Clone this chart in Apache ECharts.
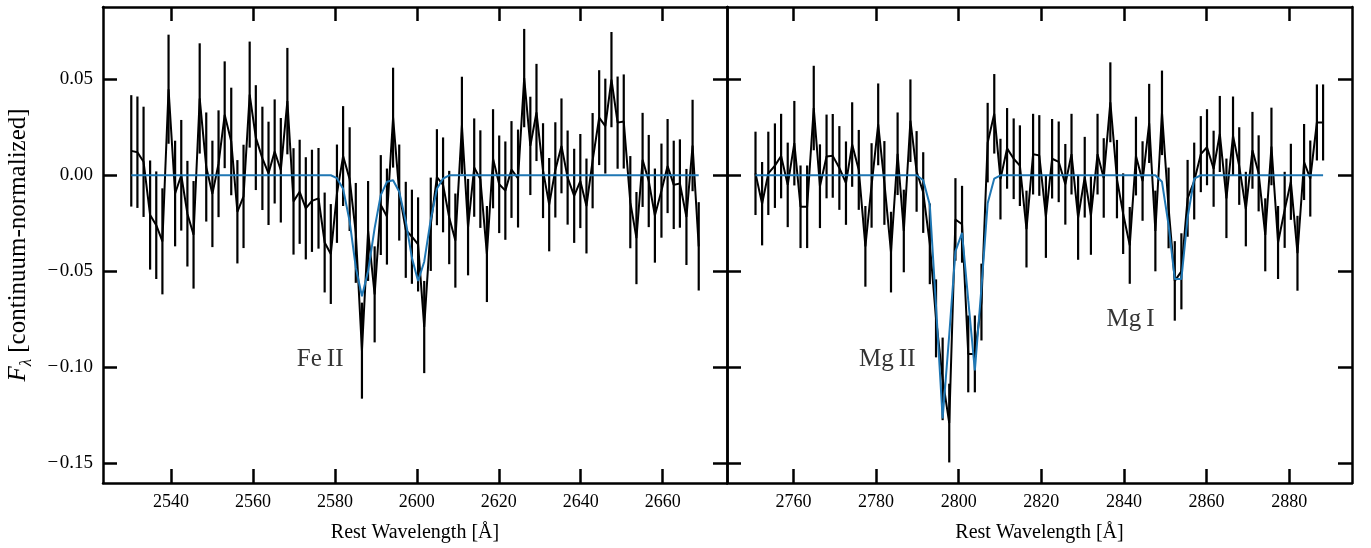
<!DOCTYPE html>
<html><head><meta charset="utf-8">
<script src="https://cdn.jsdelivr.net/npm/echarts@6/dist/echarts.min.js"></script>
<style>html,body{margin:0;padding:0;background:#fff}#c{width:1371px;height:548px}</style>
</head><body><div id="c"></div>
<script>
// ---------------- data ----------------
const leftWave = [2530.3,2531.8,2533.3,2534.9,2536.4,2537.9,2539.4,2541.0,2542.5,2544.0,
2545.5,2547.0,2548.6,2550.1,2551.6,2553.1,2554.7,2556.2,2557.7,2559.2,
2560.7,2562.3,2563.8,2565.3,2566.8,2568.4,2569.9,2571.4,2572.9,2574.4,
2576.0,2577.5,2579.0,2580.5,2582.0,2583.6,2585.1,2586.6,2588.1,2589.7,
2591.2,2592.7,2594.2,2595.7,2597.3,2598.8,2600.3,2601.8,2603.4,2604.9,
2606.4,2607.9,2609.4,2611.0,2612.5,2614.0,2615.5,2617.1,2618.6,2620.1,
2621.6,2623.1,2624.7,2626.2,2627.7,2629.2,2630.8,2632.3,2633.8,2635.3,
2636.8,2638.4,2639.9,2641.4,2642.9,2644.5,2646.0,2647.5,2649.0,2650.5,
2652.1,2653.6,2655.1,2656.6,2658.1,2659.7,2661.2,2662.7,2664.2,2665.8,
2667.3,2668.8];
const leftFlux = [0.0127,0.012,0.007,-0.0207,-0.026,-0.0344,0.0448,-0.0095,0.0,-0.020,
-0.031,0.040,0.0043,-0.0097,0.006,0.0315,0.0176,-0.019,-0.011,0.042,
0.0196,0.0088,0.001,0.0124,0.0026,0.0386,-0.0136,-0.0086,-0.0172,-0.0133,
-0.012,-0.035,-0.041,-0.0096,0.010,-0.002,-0.030,-0.0913,-0.029,-0.062,
-0.0155,-0.0215,0.030,-0.009,-0.0284,-0.032,-0.036,-0.079,-0.0255,-0.001,
-0.005,-0.022,-0.034,0.026,-0.027,0.004,-0.002,-0.041,0.0086,-0.0047,
-0.008,0.003,-0.0017,0.0506,0.0153,0.0327,0.0024,-0.0153,0.0028,0.0153,
-0.0012,-0.0107,-0.003,-0.016,0.0076,0.030,0.0256,0.0498,0.0274,0.028,
-0.014,-0.0327,0.008,-0.003,-0.021,-0.008,0.0048,-0.005,-0.0043,-0.0217,
0.0155,-0.037];
const leftErr = [0.029,0.029,0.0287,0.0284,0.028,0.0276,0.0284,0.0275,0.0288,0.0275,
0.028,0.0287,0.0284,0.0277,0.0278,0.0278,0.028,0.0269,0.0269,0.0276,
0.0273,0.0269,0.0269,0.0271,0.0272,0.0277,0.0277,0.0271,0.0266,0.0266,
0.0262,0.026,0.026,0.0256,0.026,0.027,0.026,0.025,0.026,0.025,
0.026,0.025,0.026,0.025,0.025,0.0245,0.0245,0.024,0.0243,0.025,
0.0247,0.0243,0.0245,0.0253,0.0251,0.0256,0.0254,0.025,0.0258,0.0254,
0.0256,0.0252,0.0255,0.0256,0.0256,0.0253,0.0247,0.0243,0.0248,0.0247,
0.0245,0.0245,0.0245,0.0247,0.0248,0.0247,0.0247,0.0248,0.024,0.0245,
0.024,0.024,0.0245,0.024,0.0245,0.0245,0.0245,0.023,0.023,0.025,
0.0238,0.023];
const leftModel = [0,0,0,0,0,0,0,0,0,0,
0,0,0,0,0,0,0,0,0,0,
0,0,0,0,0,0,0,0,0,0,
0,0,0,-0.0015,-0.007,-0.024,-0.048,-0.063,-0.050,-0.0275,
-0.0103,-0.0034,-0.0026,-0.0086,-0.024,-0.043,-0.055,-0.045,-0.023,-0.007,
-0.0017,0,0,0,0,0,0,0,0,0,
0,0,0,0,0,0,0,0,0,0,
0,0,0,0,0,0,0,0,0,0,
0,0,0,0,0,0,0,0,0,0,
0,0];

const rightWave = [2750.8,2752.4,2753.9,2755.5,2757.0,2758.6,2760.2,2761.7,2763.3,2764.9,
2766.4,2768.0,2769.5,2771.1,2772.7,2774.2,2775.8,2777.4,2778.9,2780.5,
2782.0,2783.6,2785.2,2786.7,2788.3,2789.8,2791.4,2793.0,2794.5,2796.1,
2797.7,2799.2,2800.8,2802.3,2803.9,2805.5,2807.0,2808.6,2810.1,2811.7,
2813.3,2814.8,2816.4,2818.0,2819.5,2821.1,2822.6,2824.2,2825.8,2827.3,
2828.9,2830.5,2832.0,2833.6,2835.1,2836.7,2838.3,2839.8,2841.4,2842.9,
2844.5,2846.1,2847.6,2849.2,2850.8,2852.3,2853.9,2855.4,2857.0,2858.6,
2860.1,2861.7,2863.2,2864.8,2866.4,2867.9,2869.5,2871.1,2872.6,2874.2,
2875.7,2877.3,2878.9,2880.4,2882.0,2883.6,2885.1,2886.7,2888.2];
const rightFlux = [0.001,-0.0148,0.001,0.005,0.010,-0.005,0.0167,-0.0164,-0.0164,0.035,
-0.0057,0.0098,0.0101,0.0038,-0.0041,0.016,0.0028,-0.037,-0.0053,0.0265,
-0.004,-0.040,0.0112,-0.029,0.0284,0.002,-0.009,-0.0357,-0.0745,-0.106,
-0.129,-0.023,-0.0255,-0.093,-0.093,-0.066,0.017,0.032,-0.002,0.014,
0.0086,0.005,-0.028,0.011,0.0103,-0.0215,0.0086,0.007,-0.0047,0.011,
-0.022,-0.001,-0.021,0.011,-0.0014,0.038,-0.002,-0.020,-0.0365,0.010,
-0.003,0.027,-0.029,0.0325,-0.017,-0.055,-0.050,-0.012,-0.003,0.011,
0.0146,0.0034,0.0215,-0.012,0.0205,0.0048,-0.0176,0.013,0.001,-0.031,
0.015,-0.035,-0.018,-0.0034,-0.0406,0.0069,-0.0017,0.0275,0.0275];
const rightErr = [0.0217,0.0217,0.0217,0.022,0.022,0.022,0.022,0.0215,0.0215,0.022,
0.0218,0.0218,0.0218,0.0218,0.0217,0.022,0.0208,0.021,0.022,0.0213,
0.0218,0.021,0.0215,0.0215,0.0215,0.021,0.021,0.021,0.0203,0.0215,
0.0205,0.0215,0.020,0.020,0.020,0.020,0.0207,0.0207,0.021,0.021,
0.021,0.021,0.020,0.021,0.021,0.0215,0.0207,0.021,0.021,0.021,
0.022,0.021,0.0204,0.021,0.0207,0.0208,0.0204,0.021,0.020,0.0205,
0.0207,0.0206,0.021,0.022,0.021,0.0207,0.0198,0.020,0.020,0.0198,
0.0198,0.0198,0.0198,0.0207,0.0205,0.0202,0.0194,0.020,0.0198,0.019,
0.0202,0.019,0.0198,0.0198,0.0195,0.0198,0.0198,0.0198,0.0198];
const rightModel = [0,0,0,0,0,0,0,0,0,0,
0,0,0,0,0,0,0,0,0,0,
0,0,0,0,0,0,-0.0026,-0.0155,-0.068,-0.1266,
-0.083,-0.0396,-0.030,-0.065,-0.1016,-0.0585,-0.0146,-0.0017,0,0,
0,0,0,0,0,0,0,0,0,0,
0,0,0,0,0,0,0,0,0,0,
0,0,0,-0.0034,-0.026,-0.054,-0.054,-0.022,-0.0017,0,
0,0,0,0,0,0,0,0,0,0,
0,0,0,0,0,0,0,0,0];

const leftTicks = [2540,2560,2580,2600,2620,2640,2660];
const rightTicks = [2760,2780,2800,2820,2840,2860,2880];
const yTicks = [-0.15,-0.10,-0.05,0.00,0.05];

const annText = ['Fe\u2009II','Mg\u2009II','Mg\u2009I'];
const annWave = [2576.4,2782.7,2841.6];
const annFlux = [-0.0957,-0.0957,-0.075];
const annPanel = [0,1,1];

// ---------------- chart ----------------
const FONT = 'Liberation Serif';
const chart = echarts.init(document.getElementById('c'), null, {renderer:'canvas'});
const pairs = (x,y)=>x.map((v,i)=>[v,y[i]]);
const errs = (x,y,e)=>x.map((v,i)=>[v,y[i]-e[i],y[i]+e[i]]);
const yFmt = v => (v < -1e-9 ? '\u2212\u200a' : '') + Math.abs(v).toFixed(2);
const xFmt = v => String(Math.round(v));

function xAx(grid, pos, ticks, min, max, labels){
  return {type:'value', gridIndex:grid, position:pos, min:min, max:max,
    axisLine:{show:true, onZero:false, lineStyle:{color:'#000', width:2.5}},
    axisTick:{show:true, inside:true, length:14, customValues:ticks, lineStyle:{color:'#000', width:2.5}},
    axisLabel:{show:labels, customValues:ticks, formatter:xFmt, margin:10, color:'#000', fontFamily:FONT, fontSize:18},
    splitLine:{show:false},
    name: labels ? 'Rest Wavelength [Å]' : '', nameLocation:'middle', nameGap:40,
    nameTextStyle:{color:'#000', fontFamily:FONT, fontSize:20}};
}
function yAx(grid, pos, labels){
  const a = {type:'value', gridIndex:grid, position:pos, min:-0.1602, max:0.0876,
    axisLine:{show:true, onZero:false, lineStyle:{color:'#000', width:2.5}},
    axisTick:{show:true, inside:true, length:14, customValues:yTicks, lineStyle:{color:'#000', width:2.5}},
    axisLabel:{show:labels, customValues:yTicks, formatter:yFmt, margin:10, color:'#000', fontFamily:FONT, fontSize:19},
    splitLine:{show:false}};
  if (labels) {
    a.name = '{it|F}{sub|λ}{n| [continuum-normalized]}';
    a.nameLocation = 'middle'; a.nameGap = 68; a.nameRotate = 90;
    a.nameTextStyle = {color:'#000', fontFamily:FONT, fontSize:25, rich:{
      it:{fontFamily:FONT, fontStyle:'italic', fontSize:25, lineHeight:33, verticalAlign:'middle', color:'#000'},
      sub:{fontFamily:FONT, fontStyle:'italic', fontSize:17, lineHeight:16, verticalAlign:'bottom', color:'#000'},
      n:{fontFamily:FONT, fontSize:25, lineHeight:33, verticalAlign:'middle', color:'#000'}}};
  }
  return a;
}
const errRender = function(params, api){
  const x = api.value(0);
  const p1 = api.coord([x, api.value(1)]);
  const p2 = api.coord([x, api.value(2)]);
  return {type:'line', shape:{x1:p1[0], y1:p1[1], x2:p2[0], y2:p2[1]}, style:{stroke:'#000', lineWidth:2.2}};
};
function panelSeries(xi, yi, wave, flux, err, model){
  return [
    {type:'custom', xAxisIndex:xi, yAxisIndex:yi, renderItem:errRender, encode:{x:0, y:[1,2]},
     data:errs(wave,flux,err), z:2, silent:true},
    {type:'line', xAxisIndex:xi, yAxisIndex:yi, data:pairs(wave,flux), showSymbol:false, z:3,
     lineStyle:{color:'#000', width:2}, silent:true},
    {type:'line', xAxisIndex:xi, yAxisIndex:yi, data:pairs(wave,model), showSymbol:false, z:4,
     lineStyle:{color:'#1f77b4', width:2}, silent:true}
  ];
}
const series = [].concat(
  panelSeries(0,0,leftWave,leftFlux,leftErr,leftModel),
  panelSeries(2,2,rightWave,rightFlux,rightErr,rightModel)
);
[0,1].forEach(p=>{
  const d = [];
  annText.forEach((t,i)=>{ if (annPanel[i]===p) d.push([annWave[i], annFlux[i], t]); });
  series.push({type:'scatter', xAxisIndex:p*2, yAxisIndex:p*2, symbolSize:0, data:d, z:5, silent:true,
    label:{show:true, position:'inside', formatter:q=>q.data[2], color:'#000', fontFamily:FONT, fontSize:25}});
});

chart.setOption({
  animation:false,
  backgroundColor:'#fff',
  grid:[{left:103, top:7, width:624, height:480}, {left:727, top:7, width:625, height:480}],
  xAxis:[xAx(0,'bottom',leftTicks,2523.4,2675.7,true), xAx(0,'top',leftTicks,2523.4,2675.7,false),
         xAx(1,'bottom',rightTicks,2743.9,2895.2,true), xAx(1,'top',rightTicks,2743.9,2895.2,false)],
  yAxis:[yAx(0,'left',true), yAx(0,'right',false), yAx(1,'left',false), yAx(1,'right',false)],
  series: series
});
</script></body></html>
